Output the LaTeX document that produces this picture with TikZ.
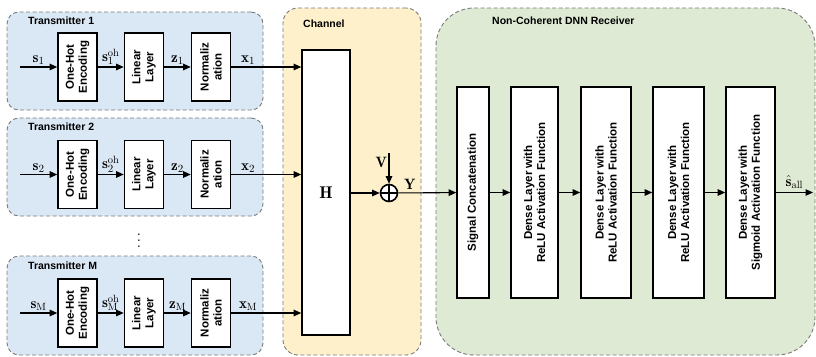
\documentclass[tikz,border=0pt]{standalone}
\usepackage{fontspec}
\setsansfont{Liberation Sans}
\usetikzlibrary{positioning,arrows.meta,calc}
\definecolor{txfill}{HTML}{DAE8F5}
\definecolor{chfill}{HTML}{FDF0CB}
\definecolor{rxfill}{HTML}{DEEAD4}
\definecolor{rim}{HTML}{7A7A7A}
\tikzset{
  panel/.style={draw=rim,dash pattern=on 4pt off 2.5pt,line width=0.9pt},
  ttl/.style={font=\sffamily\bfseries\fontsize{10.5}{12}\selectfont,inner sep=0pt,anchor=west},
  blk/.style={rectangle,draw=black,fill=white,line width=1.6pt,align=center,
    font=\sffamily\bfseries\fontsize{11.5}{13}\selectfont,inner sep=1pt,rotate=90},
  txblk/.style={blk,minimum width=68pt,minimum height=39pt},
  rxblk/.style={blk,minimum width=211pt},
  fl/.style={-{Stealth[length=7.5pt,width=6.5pt,inset=0pt]},line width=1.1pt},
  lbl/.style={font=\fontsize{15}{17}\selectfont,inner sep=1.5pt},
}

\begin{document}
\begin{tikzpicture}[x=1pt,y=-1pt]
  \useasboundingbox (0,0) rectangle (816,356);
  % panels
  \node[panel,fill=txfill,rounded corners=12pt,minimum width=256pt,minimum height=98pt] (tx1) at (135,61) {};
  \node[panel,fill=txfill,rounded corners=12pt,minimum width=256pt,minimum height=98pt] (tx2) at (135,167) {};
  \node[panel,fill=txfill,rounded corners=12pt,minimum width=256pt,minimum height=99pt] (txm) at (135,305.5) {};
  \node[panel,fill=chfill,rounded corners=15pt,minimum width=138pt,minimum height=347pt] (ch) at (352,181.5) {};
  \node[panel,fill=rxfill,rounded corners=38pt,minimum width=379pt,minimum height=347pt] (rx) at (625.5,181.5) {};
  \node[ttl] (tx1t) at (28,21) {Transmitter 1};
  \node[ttl] (tx2t) at (28,127) {Transmitter 2};
  \node[ttl] (txmt) at (28,266) {Transmitter M};
  \node[ttl] (cht) at (303,24) {Channel};
  \node[ttl] (rxt) at (492,21) {Non-Coherent DNN Receiver};

  % channel
  \node[rectangle,draw,fill=white,line width=1.6pt,minimum width=48pt,minimum height=285pt,
    font=\fontsize{17}{19}\selectfont] (H) at (326,192.5) {$\mathbf{H}$};
  \node[circle,draw,fill=white,line width=1.6pt,minimum size=17pt,inner sep=0pt] (sum) at (389,193) {};
  \draw[line width=1.3pt] (sum.north)--(sum.south) (sum.west)--(sum.east);
  \coordinate (vin) at (389,153);

  % transmitter 1
  \coordinate (in1) at (20,67);
  \node[txblk] (oh1) at (77.5,67) {One-Hot\\Encoding};
  \node[txblk] (lin1) at (144,67) {Linear\\Layer};
  \node[txblk] (nrm1) at (211,67) {Normaliz\\ation};
  \draw[fl] (in1)--node[lbl,above]{$\mathbf{s}_1$}(oh1);
  \draw[fl] (oh1)--node[lbl,above]{$\mathbf{s}_1^{\mathrm{oh}}$}(lin1);
  \draw[fl] (lin1)--node[lbl,above]{$\mathbf{z}_1$}(nrm1);
  \draw[fl] (nrm1)--node[lbl,above,pos=0.24]{$\mathbf{x}_1$}(nrm1 -| H.west);

  % transmitter 2
  \coordinate (in2) at (20,174.5);
  \node[txblk] (oh2) at (77.5,174.5) {One-Hot\\Encoding};
  \node[txblk] (lin2) at (144,174.5) {Linear\\Layer};
  \node[txblk] (nrm2) at (211,174.5) {Normaliz\\ation};
  \draw[fl] (in2)--node[lbl,above]{$\mathbf{s}_2$}(oh2);
  \draw[fl] (oh2)--node[lbl,above]{$\mathbf{s}_2^{\mathrm{oh}}$}(lin2);
  \draw[fl] (lin2)--node[lbl,above]{$\mathbf{z}_2$}(nrm2);
  \draw[fl] (nrm2)--node[lbl,above,pos=0.24]{$\mathbf{x}_2$}(nrm2 -| H.west);

  \node[scale=1.5] (dots) at (139,236) {$\vdots$};

  % transmitter M
  \coordinate (inm) at (20,313);
  \node[txblk] (ohm) at (77.5,313) {One-Hot\\Encoding};
  \node[txblk] (linm) at (144,313) {Linear\\Layer};
  \node[txblk] (nrmm) at (211,313) {Normaliz\\ation};
  \draw[fl] (inm)--node[lbl,above]{$\mathbf{s}_{\mathrm{M}}$}(ohm);
  \draw[fl] (ohm)--node[lbl,above]{$\mathbf{s}_{\mathrm{M}}^{\mathrm{oh}}$}(linm);
  \draw[fl] (linm)--node[lbl,above]{$\mathbf{z}_{\mathrm{M}}$}(nrmm);
  \draw[fl] (nrmm)--node[lbl,above,pos=0.24]{$\mathbf{x}_{\mathrm{M}}$}(nrmm -| H.west);

  % receiver
  \node[rxblk,minimum height=32pt] (cc) at (473,192.5) {Signal Concatenation};
  \node[rxblk,minimum height=47pt] (d1) at (534.5,192.5) {Dense Layer with\\ReLU Activation Function};
  \node[rxblk,minimum height=50pt] (d2) at (606,192.5) {Dense Layer with\\ReLU Activation Function};
  \node[rxblk,minimum height=51pt] (d3) at (678.5,192.5) {Dense Layer with\\ReLU Activation Function};
  \node[rxblk,minimum height=49pt] (d4) at (750.5,192.5) {Dense Layer with\\Sigmoid Activation Function};
  \coordinate (out) at (813,192.5);

  \draw[fl] (vin)--node[lbl,left,pos=0.3]{$\mathbf{V}$}(sum);
  \draw[fl] (H.east |- sum)--(sum);
  \draw[fl] (sum)--node[lbl,above,pos=0.2,inner sep=3pt]{$\mathbf{Y}$}(cc);
  \draw[fl] (cc)--(d1);
  \draw[fl] (d1)--(d2);
  \draw[fl] (d2)--(d3);
  \draw[fl] (d3)--(d4);
  \draw[fl] (d4)--node[lbl,above,inner sep=3pt]{$\hat{\mathbf{s}}_{\mathrm{all}}$}(out);
\end{tikzpicture}
\end{document}
